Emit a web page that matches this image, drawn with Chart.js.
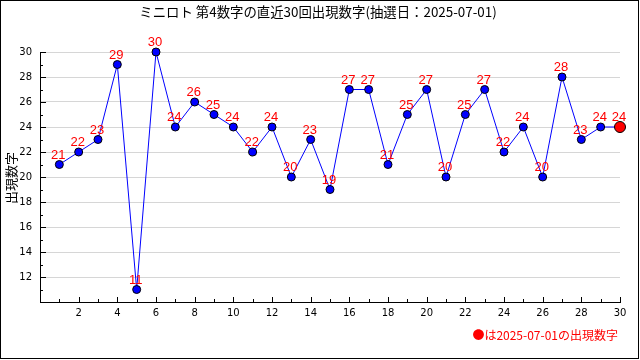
<!DOCTYPE html>
<html>
<head>
<meta charset="utf-8">
<script src="https://cdn.jsdelivr.net/npm/chart.js@4/dist/chart.umd.min.js"></script>
<style>
  html, body { margin: 0; padding: 0; background: #fff; }
  canvas { display: block; }
</style>
</head>
<body>
<canvas id="numChart" width="640" height="360"></canvas>
<script>
// draw index (1 = oldest, 30 = latest) and the 4th number drawn
const draws = [1,2,3,4,5,6,7,8,9,10,11,12,13,14,15,16,17,18,19,20,21,22,23,24,25,26,27,28,29,30];
const values = [21,22,23,29,11,30,24,26,25,24,22,24,20,23,19,27,27,21,25,27,20,25,27,22,24,20,28,23,24,24];
const yTickLabels = [12,14,16,18,20,22,24,26,28,30];
const xTickLabels = [2,4,6,8,10,12,14,16,18,20,22,24,26,28,30];

const titleText = "ミニロト 第4数字の直近30回出現数字(抽選日：2025-07-01)";
const yTitleText = "出現数字";
const noteText = "●は2025-07-01の出現数字";

const lastIdx = values.length - 1;

// frame, axes, inner tick marks, titles
const decorPlugin = {
  id: "decor",
  afterDraw(chart) {
    const ctx = chart.ctx;
    const xs = chart.scales.x, ys = chart.scales.y;
    const area = chart.chartArea;
    ctx.save();
    ctx.strokeStyle = "#000";
    ctx.lineWidth = 1;
    ctx.strokeRect(0.5, 0.5, 638, 358);

    // axis lines
    ctx.beginPath();
    ctx.moveTo(Math.round(area.left) + 0.5, Math.round(area.top));
    ctx.lineTo(Math.round(area.left) + 0.5, Math.round(area.bottom) + 0.5);
    ctx.lineTo(Math.round(area.right) + 1, Math.round(area.bottom) + 0.5);
    ctx.stroke();

    // tick marks pointing inwards
    ctx.beginPath();
    for (let v = 10; v <= 30; v++) {
      const py = Math.round(ys.getPixelForValue(v)) + 0.5;
      const len = v % 2 === 0 ? 6 : 3;
      ctx.moveTo(area.left, py);
      ctx.lineTo(area.left + len, py);
    }
    for (let v = 1; v <= 30; v++) {
      const px = Math.round(xs.getPixelForValue(v)) + 0.5;
      const len = v % 2 === 0 ? 5 : 3;
      ctx.moveTo(px, area.bottom);
      ctx.lineTo(px, area.bottom - len);
    }
    ctx.stroke();

    // title
    ctx.fillStyle = "#000";
    ctx.font = "13.4px 'Noto Sans CJK JP', sans-serif";
    ctx.textAlign = "center";
    ctx.textBaseline = "middle";
    ctx.fillText(titleText, 318, 12);

    // y axis title
    ctx.save();
    ctx.translate(11, 178);
    ctx.rotate(-Math.PI / 2);
    ctx.font = "13px 'Noto Sans CJK JP', sans-serif";
    ctx.fillText(yTitleText, 0, 0);
    ctx.restore();

    // note
    ctx.fillStyle = "#ff0000";
    ctx.font = "12px 'Noto Sans CJK JP', sans-serif";
    ctx.textAlign = "right";
    ctx.fillText(noteText, 618, 335);
    ctx.restore();
  }
};

// red value labels above points
const labelPlugin = {
  id: "valueLabels",
  afterDatasetsDraw(chart) {
    const ctx = chart.ctx;
    const meta = chart.getDatasetMeta(0);
    ctx.save();
    ctx.fillStyle = "#ff0000";
    ctx.font = "13px 'Liberation Sans Narrow', 'Liberation Sans', sans-serif";
    ctx.textAlign = "center";
    ctx.textBaseline = "alphabetic";
    meta.data.forEach((pt, i) => {
      ctx.fillText(String(values[i]), pt.x - 1, pt.y - 6);
    });
    ctx.restore();
  }
};

new Chart(document.getElementById("numChart").getContext("2d"), {
  type: "line",
  data: {
    datasets: [{
      data: draws.map((d, i) => ({ x: d, y: values[i] })),
      borderColor: "#0000ff",
      borderWidth: 1,
      tension: 0,
      pointBackgroundColor: values.map((v, i) => i === lastIdx ? "#ff0000" : "#0000ff"),
      pointBorderColor: "#000",
      pointBorderWidth: 1,
      pointRadius: values.map((v, i) => i === lastIdx ? 5.5 : 4),
      clip: false
    }]
  },
  options: {
    responsive: false,
    animation: false,
    events: [],
    layout: { padding: { top: 52, right: 20, left: 0, bottom: 0 } },
    plugins: { legend: { display: false }, tooltip: { enabled: false }, title: { display: false } },
    scales: {
      x: {
        type: "linear",
        min: 0,
        max: 30,
        afterFit(scale) { scale.height = 58; },
        ticks: {
          stepSize: 1,
          autoSkip: false,
          maxRotation: 0,
          padding: 5,
          color: "#000",
          font: { family: "'DejaVu Sans', sans-serif", size: 10 },
          callback: v => xTickLabels.includes(v) ? String(v) : ""
        },
        grid: { display: false, drawTicks: false },
        border: { display: false }
      },
      y: {
        min: 10,
        max: 30,
        afterFit(scale) { scale.width = 40; },
        ticks: {
          stepSize: 1,
          autoSkip: false,
          padding: 8,
          color: "#000",
          font: { family: "'DejaVu Sans', sans-serif", size: 10 },
          callback: v => yTickLabels.includes(v) ? String(v) : ""
        },
        grid: {
          drawTicks: false,
          lineWidth: 1,
          color: c => yTickLabels.includes(c.tick.value) ? "#d6d6d6" : "rgba(0,0,0,0)"
        },
        border: { display: false }
      }
    }
  },
  plugins: [decorPlugin, labelPlugin]
});
</script>
</body>
</html>
